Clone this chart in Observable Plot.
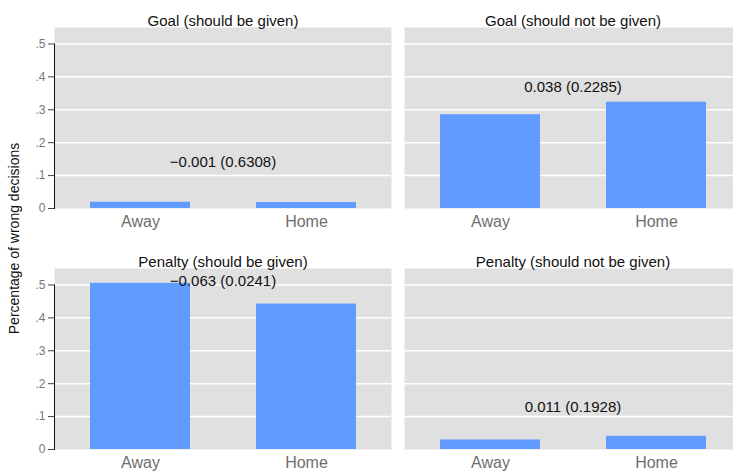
<!DOCTYPE html>
<html>
<head>
<meta charset="utf-8">
<script src="https://cdn.jsdelivr.net/npm/d3@7"></script>
<script src="https://cdn.jsdelivr.net/npm/@observablehq/plot@0.6"></script>
<style>
  body { margin: 0; background: #fff; }
  #wrap { width: 733px; height: 474px; overflow: hidden; }
  #wrap svg { max-width: none !important; }
</style>
</head>
<body>
<div id="wrap"></div>
<script>
// Panels: decision type (rows) x whether it should be given (columns)
const decisions = ["Goal", "Penalty"];
const conditions = ["should be given", "should not be given"];
const sides = ["Away", "Home"];

// Share of wrong decisions per panel, order: Goal/given, Goal/not given, Penalty/given, Penalty/not given
const awayShare = [0.019, 0.285, 0.505, 0.029];
const homeShare = [0.018, 0.323, 0.442, 0.040];
const pValues = ["0.6308", "0.2285", "0.0241", "0.1928"];
const labelHeight = [0.142, 0.369, 0.51, 0.129];

const yTicks = [0, 0.1, 0.2, 0.3, 0.4, 0.5];
const yGrid = [0.1, 0.2, 0.3, 0.4, 0.5];
const yLabel = "Percentage of wrong decisions";

const panels = decisions.flatMap(d => conditions.map(c => ({decision: d, condition: c})));

const bars = panels.flatMap((p, i) => [
  {...p, side: sides[0], value: awayShare[i]},
  {...p, side: sides[1], value: homeShare[i]}
]);

const diffFormat = d3.format(".3f");
const notes = panels.map((p, i) => ({
  ...p,
  y: labelHeight[i],
  text: `${diffFormat(homeShare[i] - awayShare[i])} (${pValues[i]})`
}));

const titles = panels.map(p => ({...p, text: `${p.decision} (${p.condition})`}));

const tickFormat = d => d === 0 ? "0" : d3.format(".1f")(d).replace(/^0/, "");

function spec(axisInset) {
  return {
    width: 741,
    height: 474,
    marginLeft: 54,
    marginRight: 0,
    marginTop: 27,
    marginBottom: 25,
    style: {fontFamily: "'Liberation Sans', Arial, Helvetica, sans-serif", background: "#fff", maxWidth: "none"},
    fx: {domain: conditions, paddingInner: 13 / 350, paddingOuter: 0, axis: null, label: null},
    fy: {domain: decisions, paddingInner: 60 / 241, paddingOuter: 0, axis: null, label: null},
    x: {domain: sides, paddingInner: 0.4, paddingOuter: 0.21, axis: null, label: null},
    y: {domain: [0, 0.55], axis: null, label: null},
    marks: [
      Plot.frame({fill: "#e0e0e0", stroke: "none"}),
      Plot.gridY(yGrid, {stroke: "#fff", strokeOpacity: 1, strokeWidth: 1.5}),
      Plot.barY(bars, {fx: "condition", fy: "decision", x: "side", y: "value", fill: "#619bff"}),
      Plot.text(notes, {fx: "condition", fy: "decision", y: "y", text: "text", fontSize: 15, fill: "#111"}),
      Plot.text(titles, {fx: "condition", fy: "decision", text: "text", frameAnchor: "top", dy: -12, fontSize: 15, fill: "#111"}),
      Plot.axisX({anchor: "bottom", facetAnchor: null, tickSize: 0, tickPadding: 7, fontSize: 16, fill: "#6e6e6e", label: null}),
      Plot.axisY(yTicks, {anchor: "left", tickFormat, tickSize: 6, tickPadding: 3, fontSize: 12, fill: "#777", stroke: "#444", label: null}),
      Plot.frame({anchor: "left", facetAnchor: "left", stroke: "#111", insetTop: axisInset}),
      Plot.text([yLabel], {facet: "super", frameAnchor: "left", textAnchor: "middle", rotate: -90, dx: -40, fontSize: 14, fill: "#111"})
    ]
  };
}

// The y axis line runs from 0 up to the top tick, so measure that offset from the y scale
const probe = Plot.plot(spec(0));
const ys = probe.scale("y");
const inset = ys.apply(0.5) - ys.apply(0.55);

document.getElementById("wrap").appendChild(Plot.plot(spec(inset)));
</script>
</body>
</html>
